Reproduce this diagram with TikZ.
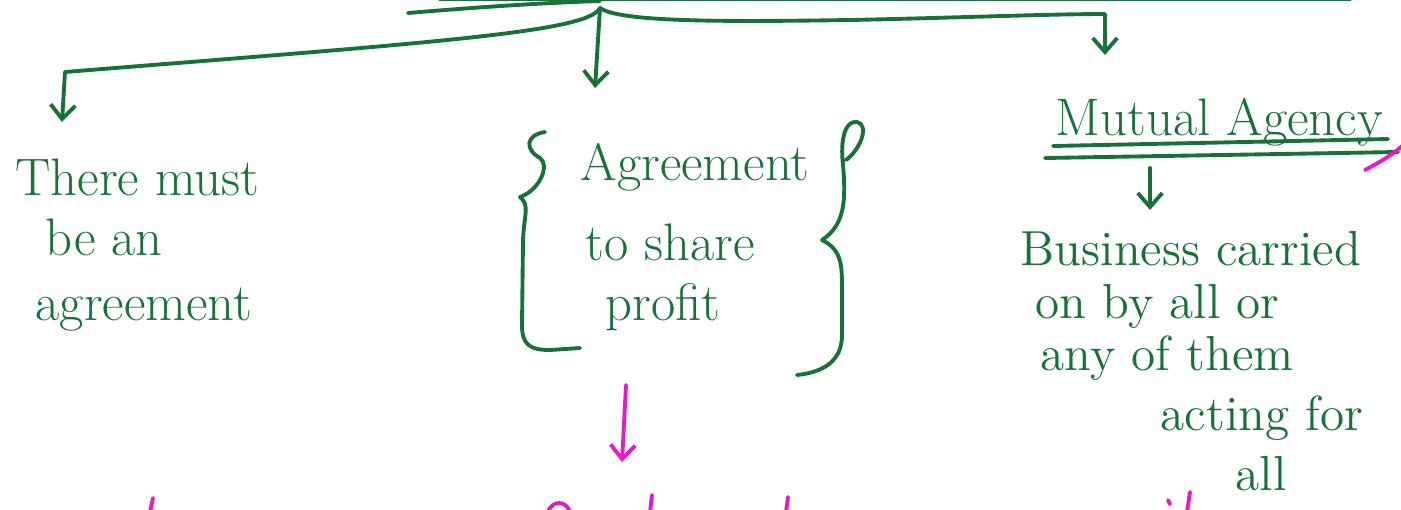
\documentclass[tikz,border=0pt]{standalone}
\usetikzlibrary{arrows.meta}
\definecolor{ink}{RGB}{24,112,58}
\definecolor{marker}{RGB}{236,24,200}
\tikzset{
	hand/.style={anchor=base west,inner sep=0pt,text=ink,font=\fontsize{15}{18}\selectfont},
	handsmall/.style={hand,font=\fontsize{14}{17}\selectfont},
	stroke/.style={draw=ink,line width=1.1pt,line cap=round,line join=round},
	arr/.style={stroke,-{Straight Barb[length=4pt,width=7pt]}},
	pinkstroke/.style={draw=marker,line width=1.1pt,line cap=round,line join=round},
	pinkarr/.style={pinkstroke,-{Straight Barb[length=4pt,width=7pt]}}
}
\begin{document}
\begin{tikzpicture}[x=0.01cm,y=-0.01cm]
	\useasboundingbox (0,0) rectangle (1401,509);
	% texts
	\node[hand] (t1) at (15,195) {There must};
	\node[hand] (t2) at (45,255) {be an};
	\node[hand] (t3) at (35,320) {agreement};
	\node[hand] (a1) at (580,180) {Agreement};
	\node[hand] (a2) at (585,260) {to share};
	\node[hand] (a3) at (605,320) {profit};
	\node[hand] (m) at (1055,135) {Mutual Agency};
	\node[handsmall] (b1) at (1020,265) {Business carried};
	\node[handsmall] (b2) at (1035,318) {on by all or};
	\node[handsmall] (b3) at (1040,370) {any of them};
	\node[handsmall] (b4) at (1160,430) {acting for};
	\node[handsmall] (b5) at (1235,490) {all};
	% tree
	\coordinate (top) at (600,8);
	\coordinate (lbend) at (65,72);
	\coordinate (lend) at (62,122);
	\coordinate (mend) at (595,88);
	\coordinate (rbend) at (1105,14);
	\coordinate (rend) at (1105,55);
	\coordinate (mA) at (1150,168);
	\coordinate (mB) at (1150,210);
	\coordinate (pA) at (626,385);
	\coordinate (pB) at (622,462);
	\draw[stroke] (440,-1) -- (1350,-1);
	\draw[stroke] (408,13) .. controls (480,7) and (540,3) .. (600,1);
	\draw[arr] (top) .. controls (588,32) and (440,42) .. (lbend) -- (lend);
	\draw[arr] (top) -- (mend);
	\draw[arr] (top) .. controls (620,22) and (720,22) .. (850,20) .. controls (950,18) and (1050,14) .. (rbend) -- (rend);
	% mutual agency
	\draw[stroke] (1053,146) -- (1388,139);
	\draw[stroke] (1045,158) -- (1398,152);
	\draw[arr] (mA) -- (mB);
	% braces
	\draw[stroke] (545,132) .. controls (525,135) and (525,150) .. (540,158) .. controls (550,165) and (540,190) .. (520,197) .. controls (530,205) and (524,215) .. (523,240) -- (522,325) .. controls (522,345) and (530,350) .. (550,350) -- (580,348);
	\draw[stroke] (846,160) .. controls (860,150) and (870,125) .. (857,122) .. controls (845,120) and (840,140) .. (843,165) .. controls (846,200) and (845,225) .. (822,240) .. controls (842,250) and (842,265) .. (842,290) -- (842,335) .. controls (842,360) and (825,372) .. (797,375);
	% pink
	\draw[pinkarr] (pA) -- (pB);
	\draw[pinkstroke] (1365,170) .. controls (1380,162) and (1392,155) .. (1402,146);
	\draw[pinkstroke] (150,512) -- (153,498);
	\draw[pinkstroke] (548,512) .. controls (552,500) and (566,500) .. (570,512);
	\draw[pinkstroke] (650,512) -- (652,495);
	\draw[pinkstroke] (786,512) -- (788,497);
	\draw[pinkstroke] (1168,500) -- (1170,504);
	\draw[pinkstroke] (1187,512) -- (1190,492);
\end{tikzpicture}
\end{document}
